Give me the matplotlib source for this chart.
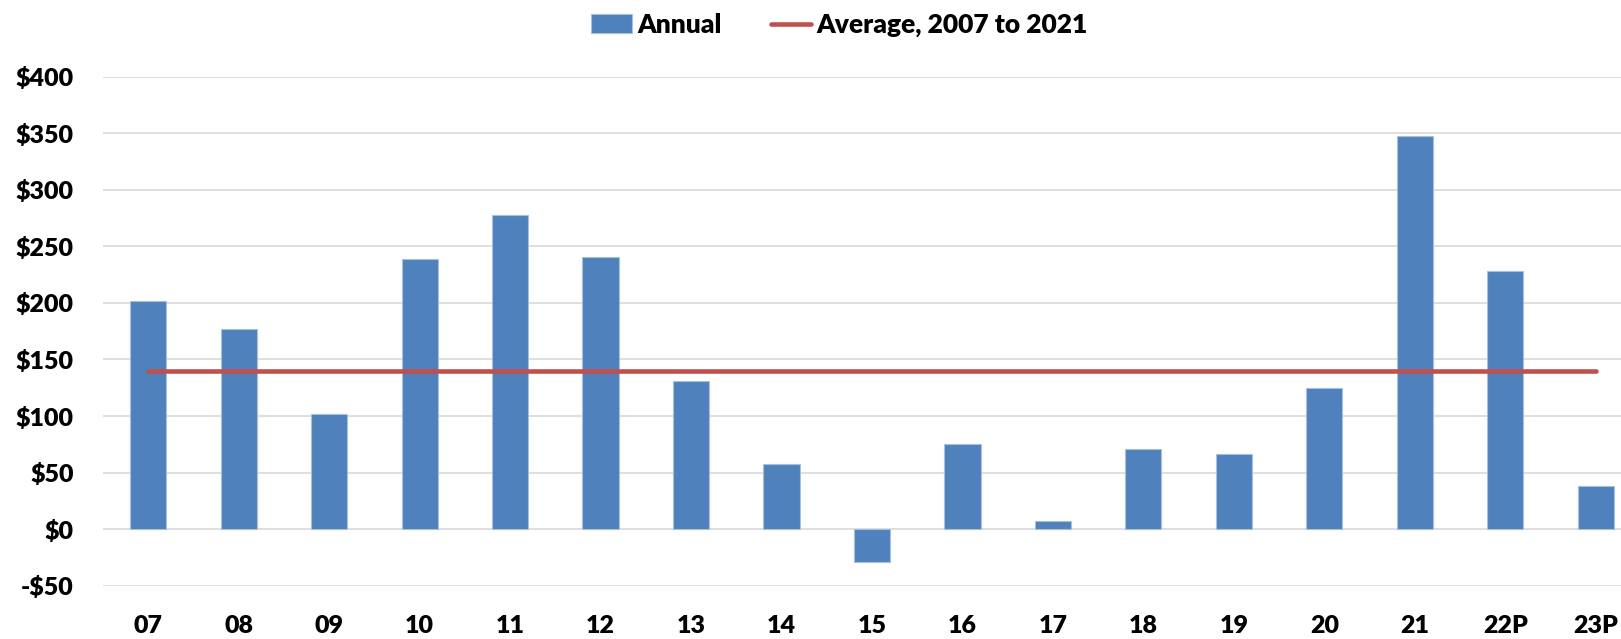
import numpy as np
import matplotlib
matplotlib.use("Agg")
import matplotlib.pyplot as plt

# annual values, $ (billions)
years = ["07", "08", "09", "10", "11", "12", "13", "14", "15", "16",
         "17", "18", "19", "20", "21", "22P", "23P"]
annual = [202, 177, 102, 239, 278, 241, 131, 58, -29, 75,
          7, 71, 66, 125, 348, 228, 38]
# average over 2007..2021 (first 15 entries)
avg = float(np.mean(annual[:15]))

plt.rcParams["font.family"] = ["Lato", "DejaVu Sans"]
W = "heavy"

fig = plt.figure(figsize=(16.21, 6.39), dpi=100)
ax = fig.add_axes([103 / 1621, 53.3 / 639, 1518 / 1621, 509 / 639])

x = np.arange(len(years))
bars = ax.bar(x, annual, width=0.4, color="#4F81BD", edgecolor="#A7C0DE",
              linewidth=0.8, label="Annual", zorder=3)
line, = ax.plot([x[0], x[-1]], [avg, avg], color="#C0504D", lw=3.3,
                solid_capstyle="round", label="Average, 2007 to 2021", zorder=4)

ax.set_xlim(-0.5, 16.28)
ax.set_ylim(-50, 400)
ax.set_yticks(range(-50, 401, 50))
ax.set_yticklabels([f"-${-v}" if v < 0 else f"${v}" for v in range(-50, 401, 50)])
ax.set_xticks(x)
ax.set_xticklabels(years)
ax.tick_params(axis="both", length=0, labelsize=18)
ax.tick_params(axis="y", pad=21)
ax.tick_params(axis="x", pad=21)
for lbl in ax.get_xticklabels() + ax.get_yticklabels():
    lbl.set_fontweight(W)

ax.grid(axis="y", color="#D9D9D9", lw=1.2, zorder=0)
for s in ax.spines.values():
    s.set_visible(False)

fig.legend([bars, line], ["Annual", "Average, 2007 to 2021"],
           loc="center", bbox_to_anchor=(0.518, 0.961), ncol=2, frameon=False,
           handlelength=1.55, handletextpad=0.2, columnspacing=1.85,
           prop={"weight": W, "size": 19})

fig.savefig("out.png", dpi=100)
